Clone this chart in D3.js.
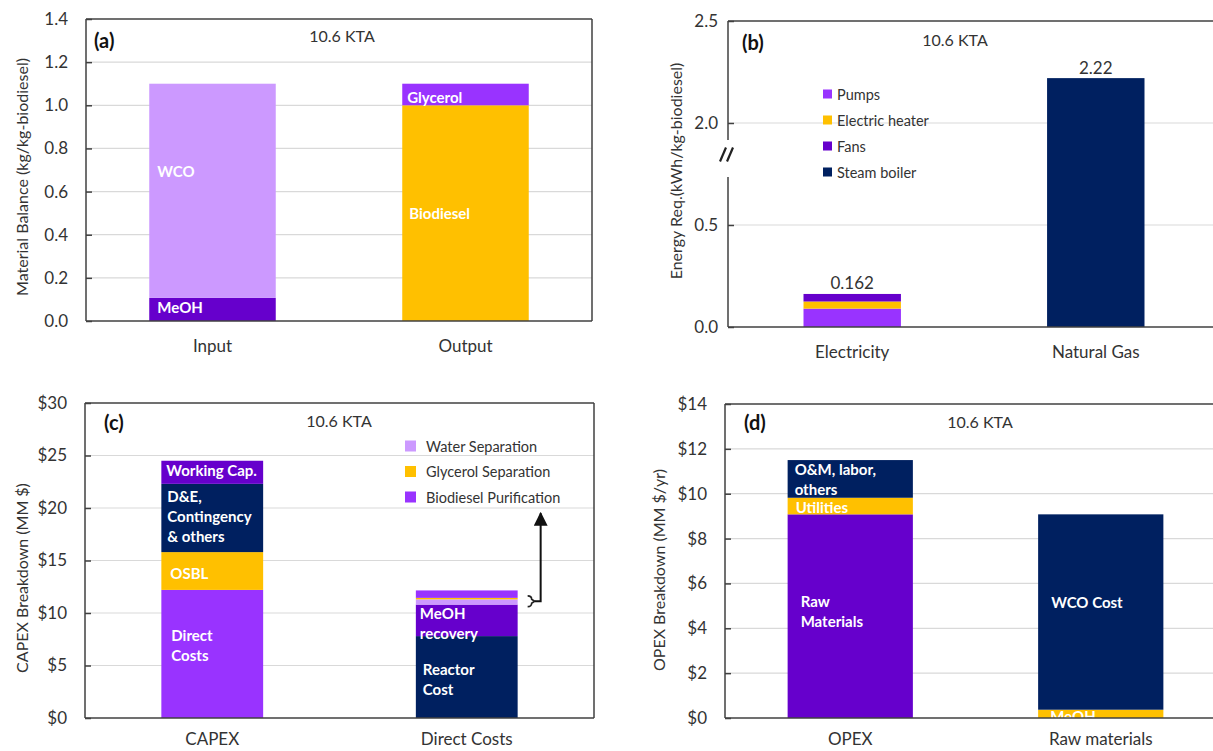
<!DOCTYPE html>
<html>
<head>
<meta charset="utf-8">
<script src="https://cdn.jsdelivr.net/npm/d3@7/dist/d3.min.js"></script>
<style>
  html, body { margin: 0; padding: 0; background: #fff; }
  text { font-family: Lato, "Open Sans", sans-serif; }
</style>
</head>
<body>
<script>
// ---------------- DATA ----------------
// Panel (a) material balance
const aCategories = ["Input", "Output"];
const aInputParts = ["MeOH", "WCO"];
const aInputValues = [0.107, 0.993];
const aOutputParts = ["Biodiesel", "Glycerol"];
const aOutputValues = [1.0, 0.1];
const aTicks = [0, 0.2, 0.4, 0.6, 0.8, 1.0, 1.2, 1.4];

// Panel (b) energy requirement (broken axis)
const bCategories = ["Electricity", "Natural Gas"];
const bElectricityParts = ["Pumps", "Electric heater", "Fans"];
const bElectricityValues = [0.090, 0.035, 0.037];
const bGasParts = ["Steam boiler"];
const bGasValues = [2.22];
const bTotalLabels = ["0.162", "2.22"];
const bTicks = [0, 0.5, 2.0, 2.5];
const bLegend = ["Pumps", "Electric heater", "Fans", "Steam boiler"];

// Panel (c) CAPEX breakdown
const cCategories = ["CAPEX", "Direct Costs"];
const cCapexParts = ["Direct Costs", "OSBL", "D&E, Contingency & others", "Working Cap."];
const cCapexValues = [12.2, 3.6, 6.5, 2.2];
const cDirectParts = ["Reactor Cost", "MeOH recovery", "Water Separation", "Glycerol Separation", "Biodiesel Purification"];
const cDirectValues = [7.8, 3.0, 0.5, 0.14, 0.71];
const cTicks = [0, 5, 10, 15, 20, 25, 30];
const cLegend = ["Water Separation", "Glycerol Separation", "Biodiesel Purification"];
const cArrowTipValue = 19.5;

// Panel (d) OPEX breakdown
const dCategories = ["OPEX", "Raw materials"];
const dOpexParts = ["Raw Materials", "Utilities", "O&M, labor, others"];
const dOpexValues = [9.08, 0.74, 1.68];
const dRawParts = ["MeOH", "WCO Cost"];
const dRawValues = [0.37, 8.71];
const dTicks = [0, 2, 4, 6, 8, 10, 12, 14];

const scaleLabel = "10.6 KTA";

// ---------------- STYLE ----------------
const C = {
  bright: "#9933FF", light: "#CC99FF", dark: "#6600CC", gold: "#FFC000", navy: "#002060"
};
const colorMap = {
  a: { "MeOH": C.dark, "WCO": C.light, "Biodiesel": C.gold, "Glycerol": C.bright },
  b: { "Pumps": C.bright, "Electric heater": C.gold, "Fans": C.dark, "Steam boiler": C.navy },
  c: { "Direct Costs": C.bright, "OSBL": C.gold, "D&E, Contingency & others": C.navy, "Working Cap.": C.dark,
       "Reactor Cost": C.navy, "MeOH recovery": C.dark, "Water Separation": C.light,
       "Glycerol Separation": C.gold, "Biodiesel Purification": C.bright },
  d: { "Raw Materials": C.dark, "Utilities": C.gold, "O&M, labor, others": C.navy, "MeOH": C.gold, "WCO Cost": C.navy }
};
// in-bar labels: lines, x offset, y offset
const barLabels = {
  a: { "MeOH": {lines:["MeOH"], dx:8, dy:-2}, "WCO": {lines:["WCO"], dx:8, dy:-20},
       "Biodiesel": {lines:["Biodiesel"], dx:7, dy:0}, "Glycerol": {lines:["Glycerol"], dx:5, dy:2} },
  c: { "Direct Costs": {lines:["Direct","Costs"], dx:10, dy:-9}, "OSBL": {lines:["OSBL"], dx:9, dy:2},
       "D&E, Contingency & others": {lines:["D&E,","Contingency","& others"], dx:6, dy:-2},
       "Working Cap.": {lines:["Working Cap."], dx:5, dy:-2},
       "Reactor Cost": {lines:["Reactor","Cost"], dx:7, dy:2}, "MeOH recovery": {lines:["MeOH","recovery"], dx:4, dy:3} },
  d: { "Raw Materials": {lines:["Raw","Materials"], dx:13, dy:-5}, "Utilities": {lines:["Utilities"], dx:8, dy:1},
       "O&M, labor, others": {lines:["O&M, labor,","others"], dx:7, dy:0},
       "WCO Cost": {lines:["WCO Cost"], dx:13, dy:-10}, "MeOH": {lines:["MeOH"], dx:12, dy:2} }
};

const W = 1213, H = 751;
const svg = d3.select("body").append("svg").attr("width", W).attr("height", H);
const FRAME = "#404040", GRID = "#d9d9d9", TXT = "#333";

function drawPanel(o) {
  const g = svg.append("g");
  const x = d3.scaleBand().domain(o.cats).range([o.left, o.right]).paddingInner(o.pi).paddingOuter(o.po);
  const y = o.y;
  // grid
  g.selectAll("line.grid").data(o.grid).join("line")
    .attr("x1", o.left).attr("x2", o.right).attr("y1", d => y(d)).attr("y2", d => y(d))
    .attr("stroke", GRID).attr("stroke-width", 1.2);
  // bars
  o.stacks.forEach((st, i) => {
    let cum = 0;
    const segs = st.parts.map((p, j) => { const s = {name: p, y0: cum, y1: cum + st.values[j]}; cum += st.values[j]; return s; });
    const cat = o.cats[i];
    g.selectAll(null).data(segs).join("rect")
      .attr("x", x(cat)).attr("width", x.bandwidth())
      .attr("y", d => y(d.y1)).attr("height", d => y(d.y0) - y(d.y1))
      .attr("fill", d => o.colors[d.name]);
    if (o.labels) {
      segs.forEach(s => {
        const L = o.labels[s.name];
        if (!L) return;
        const cy = (y(s.y0) + y(s.y1)) / 2 + L.dy;
        const lh = 20;
        const t = g.append("text").attr("fill", "#fff").attr("font-weight", "bold")
          .attr("font-size", o.labelSize || 15).attr("dominant-baseline", "central");
        L.lines.forEach((ln, k) => {
          t.append("tspan").attr("x", x(cat) + L.dx)
            .attr("y", cy + (k - (L.lines.length - 1) / 2) * lh).text(ln);
        });
      });
    }
  });
  // frame (top, right, bottom)
  g.append("line").attr("x1", o.left).attr("x2", o.right).attr("y1", o.top).attr("y2", o.top).attr("stroke", FRAME).attr("stroke-width", 1.5);
  g.append("line").attr("x1", o.right).attr("x2", o.right).attr("y1", o.top).attr("y2", o.bottom).attr("stroke", FRAME).attr("stroke-width", 1.5);
  g.append("line").attr("x1", o.left).attr("x2", o.right).attr("y1", o.bottom).attr("y2", o.bottom).attr("stroke", FRAME).attr("stroke-width", 1.5);
  // y axis
  const ax = g.append("g").attr("transform", `translate(${o.left},0)`)
    .call(d3.axisLeft(y).tickValues(o.ticks).tickFormat(o.fmt).tickSizeInner(-6).tickSizeOuter(0).tickPadding(o.tickPad || 18));
  ax.select(".domain").remove();
  ax.selectAll(".tick line").attr("stroke", FRAME).attr("stroke-width", 1.5);
  ax.selectAll(".tick text").attr("fill", TXT).attr("font-size", 17).attr("font-family", "Lato, sans-serif");
  if (o.axisBreak) {
    const [b1, b2] = o.axisBreak;
    g.append("line").attr("x1", o.left).attr("x2", o.left).attr("y1", o.top).attr("y2", b1).attr("stroke", FRAME).attr("stroke-width", 1.5);
    g.append("line").attr("x1", o.left).attr("x2", o.left).attr("y1", b2).attr("y2", o.bottom).attr("stroke", FRAME).attr("stroke-width", 1.5);
    const bc = (b1 + b2) / 2 - 4;
    [-5, 2].forEach(off => {
      g.append("line").attr("x1", o.left + off - 3).attr("y1", bc + 7).attr("x2", o.left + off + 3).attr("y2", bc - 7)
        .attr("stroke", "#222").attr("stroke-width", 2.2);
    });
  } else {
    g.append("line").attr("x1", o.left).attr("x2", o.left).attr("y1", o.top).attr("y2", o.bottom).attr("stroke", FRAME).attr("stroke-width", 1.5);
  }
  // x axis labels
  const xa = g.append("g").attr("transform", `translate(0,${o.bottom})`)
    .call(d3.axisBottom(x).tickSize(0).tickPadding(o.xPad || 19));
  xa.select(".domain").remove();
  xa.selectAll(".tick text").attr("fill", TXT).attr("font-size", 17).attr("font-family", "Lato, sans-serif");
  // y title
  g.append("text").attr("transform", `translate(${o.ytX},${o.ytY}) rotate(-90)`)
    .attr("text-anchor", "middle").attr("dominant-baseline", "central")
    .attr("font-size", 16).attr("fill", TXT).text(o.ytitle);
  // panel letter and scale label
  g.append("text").attr("x", o.left + o.letterDx).attr("y", o.top + o.letterDy).attr("dominant-baseline", "central")
    .attr("font-weight", "bold").attr("font-size", 20).attr("fill", "#111").text(o.letter);
  g.append("text").attr("x", o.left + o.ktaDx).attr("y", o.top + o.ktaDy).attr("text-anchor", "middle").attr("dominant-baseline", "central")
    .attr("font-size", 16).attr("fill", TXT).text(scaleLabel);
  return {g, x, y};
}

// ---- Panel (a)
drawPanel({
  left: 86, right: 592, top: 19, bottom: 321, pi: 0.5, po: 0.25,
  y: d3.scaleLinear().domain([0, 1.4]).range([321, 19]),
  ticks: aTicks, grid: aTicks.slice(1, -1), fmt: d3.format(".1f"),
  cats: aCategories,
  stacks: [{parts: aInputParts, values: aInputValues}, {parts: aOutputParts, values: aOutputValues}],
  colors: colorMap.a, labels: barLabels.a,
  ytitle: "Material Balance (kg/kg-biodiesel)", ytX: 21, ytY: 177,
  letter: "(a)", letterDx: 8, letterDy: 21, ktaDx: 256, ktaDy: 16
});

// ---- Panel (b)
const pb = drawPanel({
  left: 728, right: 1220, top: 21, bottom: 327, pi: 0.6, po: 0.31,
  y: d3.scaleLinear().domain([0, 0.5, 2.0, 2.5]).range([327, 225, 123, 21]),
  ticks: bTicks, grid: [0.5, 2.0], fmt: d3.format(".1f"), tickPad: 10,
  cats: bCategories,
  stacks: [{parts: bElectricityParts, values: bElectricityValues}, {parts: bGasParts, values: bGasValues}],
  colors: colorMap.b,
  axisBreak: [140, 177],
  ytitle: "Energy Req.(kWh/kg-biodiesel)", ytX: 675, ytY: 171,
  letter: "(b)", letterDx: 14, letterDy: 21, ktaDx: 227, ktaDy: 18
});
[bElectricityValues, bGasValues].forEach((vals, i) => {
  const tot = d3.sum(vals);
  pb.g.append("text").attr("x", pb.x(bCategories[i]) + pb.x.bandwidth() / 2).attr("y", pb.y(tot) - 11)
    .attr("text-anchor", "middle").attr("dominant-baseline", "central").attr("font-size", 17).attr("fill", TXT)
    .text(bTotalLabels[i]);
});
const lgB = pb.g.append("g").attr("transform", "translate(823,94)");
bLegend.forEach((name, i) => {
  lgB.append("rect").attr("x", 0).attr("y", i * 26 - 4.5).attr("width", 9).attr("height", 9).attr("fill", colorMap.b[name]);
  lgB.append("text").attr("x", 14).attr("y", i * 26).attr("dominant-baseline", "central").attr("font-size", 14.5)
    .attr("fill", TXT).text(name);
});

// ---- Panel (c)
const pc = drawPanel({
  left: 85, right: 594, top: 403, bottom: 718, pi: 0.6, po: 0.3,
  y: d3.scaleLinear().domain([0, 30]).range([718, 403]),
  ticks: cTicks, grid: cTicks.slice(1, -1), fmt: d => "$" + d, xPad: 15,
  cats: cCategories,
  stacks: [{parts: cCapexParts, values: cCapexValues}, {parts: cDirectParts, values: cDirectValues}],
  colors: colorMap.c, labels: barLabels.c,
  ytitle: "CAPEX Breakdown (MM $)", ytX: 21, ytY: 578,
  letter: "(c)", letterDx: 19, letterDy: 19, ktaDx: 254, ktaDy: 17
});
const lgC = pc.g.append("g").attr("transform", "translate(405,446)");
cLegend.forEach((name, i) => {
  lgC.append("rect").attr("x", 0).attr("y", i * 25.5 - 5.5).attr("width", 11).attr("height", 11).attr("fill", colorMap.c[name]);
  lgC.append("text").attr("x", 21).attr("y", i * 25.5).attr("dominant-baseline", "central").attr("font-size", 14.5)
    .attr("fill", TXT).text(name);
});
{
  const yv = pc.y;
  const base = cDirectValues[0] + cDirectValues[1];
  const yb = yv(base), yt = yv(base + cDirectValues[2] + cDirectValues[3]);
  const xr = pc.x(cCategories[1]) + pc.x.bandwidth();
  const xb = xr + 10, ym = (yb + yt) / 2;
  pc.g.append("path")
    .attr("d", `M${xb},${yt - 2} Q${xb + 4},${yt - 2} ${xb + 4},${ym - 2} L${xb + 7},${ym} L${xb + 4},${ym + 2} Q${xb + 4},${yb + 2} ${xb},${yb + 2}`)
    .attr("fill", "none").attr("stroke", "#222").attr("stroke-width", 1.6);
  const xa = xr + 23;
  svg.append("defs").append("marker").attr("id", "ah").attr("viewBox", "0 0 10 10").attr("refX", 9).attr("refY", 5)
    .attr("markerWidth", 7).attr("markerHeight", 7).attr("orient", "auto")
    .append("path").attr("d", "M0,0 L10,5 L0,10 z").attr("fill", "#111");
  pc.g.append("path").attr("d", `M${xb + 7},${ym} L${xa},${ym} L${xa},${yv(cArrowTipValue)}`)
    .attr("fill", "none").attr("stroke", "#111").attr("stroke-width", 2).attr("marker-end", "url(#ah)");
}

// ---- Panel (d)
drawPanel({
  left: 725, right: 1226, top: 404, bottom: 718, pi: 0.5, po: 0.25,
  y: d3.scaleLinear().domain([0, 14]).range([718, 404]),
  ticks: dTicks, grid: dTicks.slice(1, -1), fmt: d => "$" + d, xPad: 15,
  cats: dCategories,
  stacks: [{parts: dOpexParts, values: dOpexValues}, {parts: dRawParts, values: dRawValues}],
  colors: colorMap.d, labels: barLabels.d,
  ytitle: "OPEX Breakdown (MM $/yr)", ytX: 658, ytY: 570,
  letter: "(d)", letterDx: 19, letterDy: 18, ktaDx: 255, ktaDy: 17
});
</script>
</body>
</html>
